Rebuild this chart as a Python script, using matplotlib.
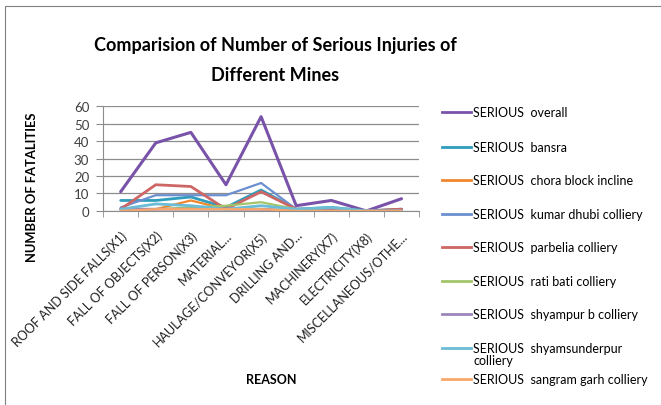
import matplotlib.pyplot as plt
from matplotlib.lines import Line2D
from matplotlib.patches import Rectangle

plt.rcParams['font.family'] = ['Lato', 'DejaVu Sans']

# categories (x axis)
reasons = ['ROOF AND SIDE FALLS(X1)', 'FALL OF OBJECTS(X2)', 'FALL OF PERSON(X3)',
           'MATERIAL...', 'HAULAGE/CONVEYOR(X5)', 'DRILLING AND...',
           'MACHINERY(X7)', 'ELECTRICITY(X8)', 'MISCELLANEOUS/OTHE...']

# serious injuries per mine
overall = [11, 39, 45, 15, 54, 3, 6, 0, 7]
bansra = [6, 6, 8, 2, 12, 1, 2, 0, 1]
chora = [1, 1, 6, 1, 1, 0, 0, 0, 1]
kumardhubi = [2, 9, 9, 9, 16, 1, 1, 0, 0]
parbelia = [1, 15, 14, 1, 11, 1, 1, 0, 1]
ratibati = [1, 1, 2, 3, 5, 1, 0, 0, 0]
shyampur = [1, 1, 1, 1, 1, 0, 0, 0, 0]
shyamsunderpur = [1, 4, 3, 1, 3, 1, 2, 0, 0]
sangram = [0, 1, 1, 1, 1, 0, 0, 0, 0]

noms = ['SERIOUS  overall', 'SERIOUS  bansra', 'SERIOUS  chora block incline',
        'SERIOUS  kumar dhubi colliery', 'SERIOUS  parbelia colliery',
        'SERIOUS  rati bati colliery', 'SERIOUS  shyampur b colliery',
        'SERIOUS  shyamsunderpur\ncolliery', 'SERIOUS  sangram garh colliery']
series = [overall, bansra, chora, kumardhubi, parbelia, ratibati, shyampur,
          shyamsunderpur, sangram]
couleurs = ['#7953A9', '#2E9EBC', '#F0862E', '#6C8FD0', '#CD6664',
            '#A4C46A', '#9A86BA', '#6CBCD6', '#F9A86A']
epaisseurs = [2.2, 2, 1.6, 1.6, 2, 1.6, 2, 2, 1.6]

fig = plt.figure(figsize=(6.61, 4.06), dpi=100)
ax = fig.add_axes([0.156, 0.478, 0.478, 0.258])

x = list(range(len(reasons)))
for s, c, lw in zip(series, couleurs, epaisseurs):
    ax.plot(x, s, color=c, linewidth=lw, solid_capstyle='round')

ax.set_xlim(-0.5, len(reasons) - 0.5)
ax.set_ylim(0, 60)
ax.set_yticks(range(0, 61, 10))
ax.yaxis.grid(True, color='#8C8C8C', linewidth=0.9)
ax.set_axisbelow(True)
ax.set_xticks(x)
ax.set_xticklabels(reasons, rotation=45, ha='right', rotation_mode='anchor',
                   fontsize=9, color='#202020')
ax.set_xticks([i - 0.5 for i in range(len(reasons) + 1)], minor=True)
ax.tick_params(axis='x', which='major', length=0, pad=13)
ax.tick_params(axis='x', which='minor', length=4, color='#8C8C8C')
ax.tick_params(axis='y', length=5, color='#8C8C8C', labelsize=9.5,
               labelcolor='#404040', pad=5)
for cote in ['top', 'right']:
    ax.spines[cote].set_visible(False)
for cote in ['left', 'bottom']:
    ax.spines[cote].set_color('#8C8C8C')

ax.set_ylabel('NUMBER OF FATALITIES', fontsize=9.4, fontweight='bold')
ax.yaxis.set_label_coords(-0.205, 0.24)
fig.text(0.41, 0.063, 'REASON', fontsize=9, fontweight='bold', ha='center', va='center')

fig.text(0.416, 0.887, 'Comparision of Number of Serious Injuries of', fontsize=13,
         fontweight='bold', ha='center', va='center')
fig.text(0.416, 0.815, 'Different Mines', fontsize=13, fontweight='bold',
         ha='center', va='center')

# legende dessinee a la main
W, H = 661, 406
ys = [113, 148, 181, 215, 248, 282, 315, 349, 380]
for nom, c, yy in zip(noms, couleurs, ys):
    fig.add_artist(Line2D([442 / W, 471 / W], [1 - yy / H, 1 - yy / H],
                          color=c, linewidth=2))
    if '\n' in nom:
        fig.text(473 / W, 1 - (yy - 6) / H, nom, fontsize=9, va='top', linespacing=1.05)
    else:
        fig.text(473 / W, 1 - yy / H, nom, fontsize=9, va='center')

fig.add_artist(Rectangle((5 / W, -0.1), 1.2, 1 - 7 / H + 0.1, transform=fig.transFigure,
                         fill=False, edgecolor='#808080', linewidth=0.8))

fig.savefig('out.png')
